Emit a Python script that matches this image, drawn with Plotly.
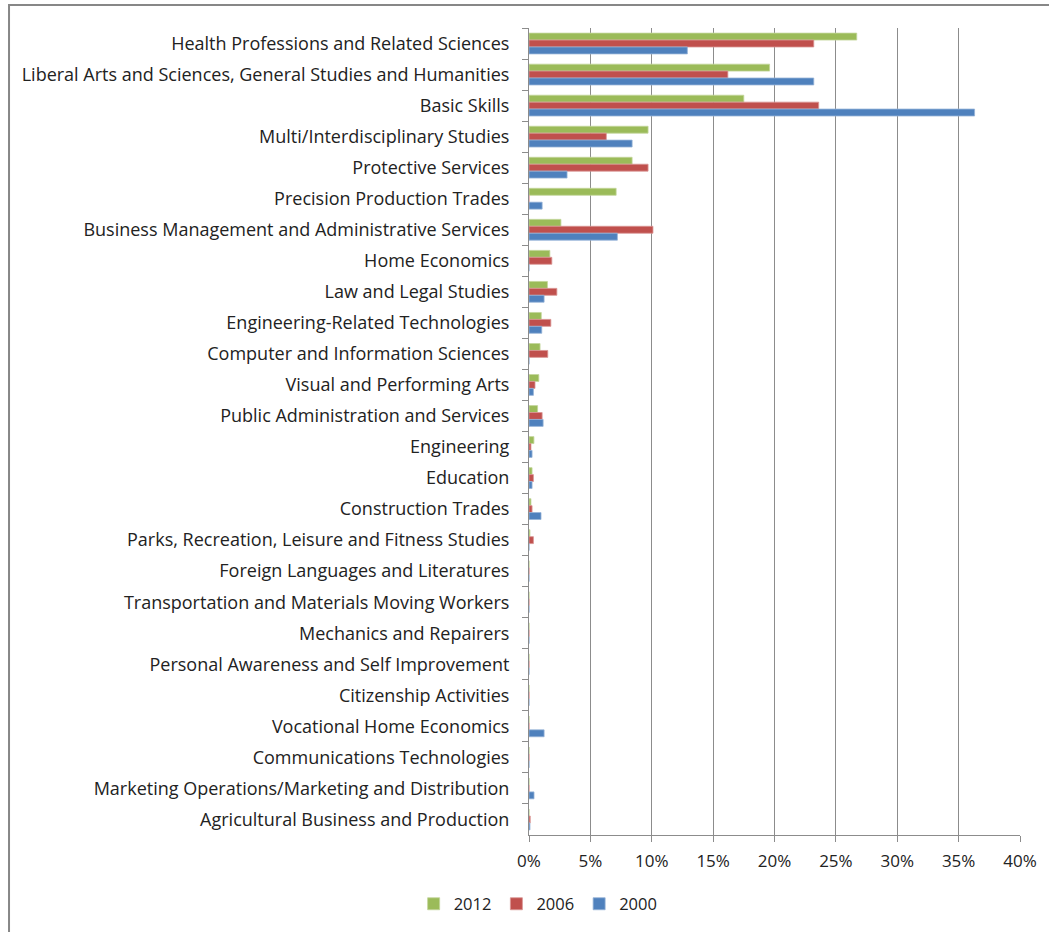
import plotly.graph_objects as go

# Fields of study, listed top to bottom
categories = [
    "Health Professions and Related Sciences",
    "Liberal Arts and Sciences, General Studies and Humanities",
    "Basic Skills",
    "Multi/Interdisciplinary Studies",
    "Protective Services",
    "Precision Production Trades",
    "Business Management and Administrative Services",
    "Home Economics",
    "Law and Legal Studies",
    "Engineering-Related Technologies",
    "Computer and Information Sciences",
    "Visual and Performing Arts",
    "Public Administration and Services",
    "Engineering",
    "Education",
    "Construction Trades",
    "Parks, Recreation, Leisure and Fitness Studies",
    "Foreign Languages and Literatures",
    "Transportation and Materials Moving Workers",
    "Mechanics and Repairers",
    "Personal Awareness and Self Improvement",
    "Citizenship Activities",
    "Vocational Home Economics",
    "Communications Technologies",
    "Marketing Operations/Marketing and Distribution",
    "Agricultural Business and Production",
]

# Share of awards (fraction) by year
share_2012 = [0.267, 0.196, 0.175, 0.097, 0.084, 0.071, 0.026, 0.017, 0.015, 0.010,
              0.009, 0.008, 0.007, 0.004, 0.0025, 0.0016, 0.0008, 0.0, 0.0, 0.0,
              0.0, 0.0, 0.0, 0.0, 0.0, 0.0]
share_2006 = [0.232, 0.162, 0.236, 0.063, 0.097, 0.0, 0.101, 0.0186, 0.0227, 0.0178,
              0.0153, 0.0049, 0.0107, 0.0016, 0.0036, 0.0025, 0.0036, 0.0, 0.0, 0.0,
              0.0, 0.0, 0.0, 0.0, 0.0, 0.001]
share_2000 = [0.129, 0.232, 0.363, 0.084, 0.031, 0.0107, 0.072, 0.0, 0.0123, 0.0104,
              0.0, 0.0036, 0.0115, 0.0025, 0.0025, 0.0098, 0.0, 0.0, 0.0, 0.0,
              0.0, 0.0, 0.0123, 0.0, 0.0041, 0.0008]

years = ["2012", "2006", "2000"]
series = [share_2012, share_2006, share_2000]
colors = ["#9BBB59", "#C0504D", "#4F81BD"]
edges = ["#C3D69B", "#D99694", "#95B3D7"]

x_ticks = [0, 0.05, 0.10, 0.15, 0.20, 0.25, 0.30, 0.35, 0.40]

fig = go.Figure()
for year, vals, col, edge in zip(years, series, colors, edges):
    fig.add_trace(go.Bar(
        y=categories, x=vals, name=year, orientation="h",
        marker=dict(color=col, line=dict(color=edge, width=0.8)),
    ))

W, H = 1049, 932
ml, mr, mt, mb = 528.5, 29, 28, 97
pw, ph = W - ml - mr, H - mt - mb

def px_x(p):
    return (p - ml) / pw

def px_y(p):
    return (H - mb - p) / ph

fig.update_layout(
    width=W, height=H,
    margin=dict(l=ml, r=mr, t=mt, b=mb),
    paper_bgcolor="white", plot_bgcolor="white",
    barmode="group", bargap=0.33, bargroupgap=0.0,
    font=dict(family="'Open Sans', sans-serif", size=18, color="#222222"),
    showlegend=True,
    legend=dict(
        orientation="h", xref="container", yref="container",
        x=0.513, xanchor="center", y=0.03, yanchor="middle",
        traceorder="normal", font=dict(size=16.5), itemwidth=30,
    ),
    xaxis=dict(
        range=[0, 0.40], tickvals=x_ticks, tickformat=".0%",
        showgrid=True, gridcolor="#8C8C8C", gridwidth=1,
        showline=True, linecolor="#8C8C8C", linewidth=1,
        ticks="outside", ticklen=6, tickcolor="#8C8C8C",
        ticklabelstandoff=5, tickfont=dict(size=17),
        zeroline=False, fixedrange=True,
    ),
    yaxis=dict(
        categoryorder="array", categoryarray=categories,
        autorange="reversed",
        showline=True, linecolor="#8C8C8C", linewidth=1,
        ticks="outside", ticklen=6, tickcolor="#8C8C8C",
        tickson="boundaries", ticklabelstandoff=15,
        showgrid=False, fixedrange=True,
    ),
    shapes=[dict(
        type="rect", xref="paper", yref="paper",
        x0=px_x(8), x1=px_x(1080), y0=px_y(960), y1=px_y(5),
        line=dict(color="#878787", width=2), fillcolor="rgba(0,0,0,0)",
        layer="above",
    )],
)

fig.write_html("out.html")
